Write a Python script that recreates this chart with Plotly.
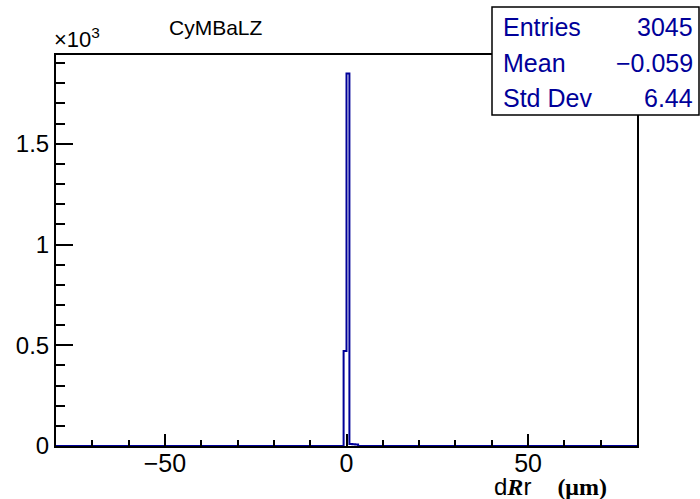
import numpy as np
import plotly.graph_objects as go

# ---- data ----
bin_width = 0.8
x_min, x_max = -80.0, 80.0
# non-empty bins (bin low edge -> count)
bin_lows = [-0.8, 0.0, 0.8, 1.6, 2.4]
bin_counts = [472, 1848, 10, 9, 8]
stats_labels = ["Entries", "Mean", "Std Dev"]
stats_values = ["3045", "\u22120.059", "6.44"]
ytick_vals = [0, 500, 1000, 1500]
ytick_text = ["0", "0.5", "1", "1.5"]
xtick_vals = [-50, 0, 50]
xtick_text = ["\u221250", "0", "50"]

# build full histogram
n_bins = int(round((x_max - x_min) / bin_width))
edges = x_min + bin_width * np.arange(n_bins + 1)
counts = np.zeros(n_bins)
for lo, c in zip(bin_lows, bin_counts):
    idx = int(round((lo - x_min) / bin_width))
    counts[idx] = c

xs = list(edges)
ys = list(counts) + [counts[-1]]

blue = "#000099"
fig = go.Figure()
fig.add_trace(go.Scatter(x=xs, y=ys, mode="lines", line=dict(color=blue, width=2, shape="hv"),
                         hoverinfo="skip", showlegend=False))

ymax = max(bin_counts) * 1.05
font = "Liberation Sans, Arial, Helvetica, sans-serif"

fig.update_layout(
    width=700, height=499,
    margin=dict(l=56, r=63, t=55, b=53),
    paper_bgcolor="white", plot_bgcolor="white",
    font=dict(family=font, size=24, color="black"),
    xaxis=dict(range=[x_min, x_max], showgrid=False, zeroline=False,
               showline=True, linecolor="black", linewidth=2, mirror=True,
               ticks="inside", ticklen=12, tickwidth=1.5, tickcolor="black",
               tickvals=xtick_vals, ticktext=xtick_text, ticklabelstandoff=-6,
               minor=dict(ticks="inside", ticklen=6, tickwidth=1.5, dtick=10, tick0=0, tickcolor="black", showgrid=False),
               tickfont=dict(size=25, family=font)),
    yaxis=dict(range=[0, ymax], showgrid=False, zeroline=False,
               showline=True, linecolor="black", linewidth=2, mirror=True,
               ticks="inside", ticklen=17, tickwidth=1.5, tickcolor="black",
               tickvals=ytick_vals, ticktext=ytick_text,
               minor=dict(ticks="inside", ticklen=9, tickwidth=1.5, dtick=100, tick0=0, tickcolor="black", showgrid=False),
               tickfont=dict(size=24, family=font)),
)

ann = []
# title
ann.append(dict(text="CyMBaLZ", x=167, y=27, showarrow=False,
                xanchor="left", yanchor="middle", font=dict(size=21, family=font)))
# x10^3
ann.append(dict(text="\u00d710<sup>3</sup>", x=52, y=38, xanchor="left", yanchor="middle",
                showarrow=False, font=dict(size=22, family=font)))
# x axis title
ann.append(dict(text="d<span style='font-family:Liberation Serif;font-weight:bold;font-style:italic'>R</span>r   "
                     "<span style='font-family:Liberation Serif;font-weight:bold'> (\u03bcm)</span>",
                x=609, y=487, xanchor="right", yanchor="middle", showarrow=False,
                font=dict(size=24, family=font)))
# stats
rows_y = [27, 63, 98]
for lab, val, yy in zip(stats_labels, stats_values, rows_y):
    ann.append(dict(text=lab, x=501, y=yy, xanchor="left", yanchor="middle", showarrow=False,
                    font=dict(size=25, family=font, color=blue)))
    ann.append(dict(text=val, x=695, y=yy, xanchor="right", yanchor="middle", showarrow=False,
                    font=dict(size=25, family=font, color=blue)))

# convert pixel positions to paper coords
W, H = 700, 499
l, r, t, b = 56, 63, 55, 53
pw, ph = W - l - r, H - t - b
for a in ann:
    a["xref"] = "paper"; a["yref"] = "paper"
    a["x"] = (a["x"] - l) / pw
    a["y"] = (H - b - a["y"]) / ph
fig.update_layout(annotations=ann)

# stats box
fig.add_shape(type="rect", xref="paper", yref="paper",
              x0=(492 - l) / pw, x1=(699 - l) / pw,
              y0=(H - b - 115) / ph, y1=(H - b - 7) / ph,
              line=dict(color="black", width=1.5), fillcolor="white", layer="above")

fig.write_html("out.html", config={"displayModeBar": False},
               post_script="document.body.style.margin='0';document.body.style.overflow='hidden';")
